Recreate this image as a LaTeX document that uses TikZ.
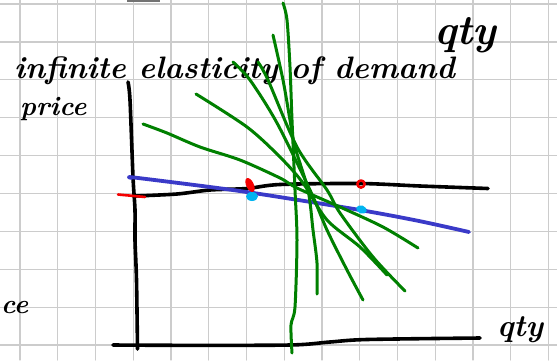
\documentclass[tikz,border=0pt]{standalone}
\usepackage{graphicx}
\usetikzlibrary{calc}
\definecolor{gridgray}{RGB}{204,204,204}
\definecolor{penblue}{RGB}{58,58,200}
\definecolor{pengreen}{RGB}{0,128,0}
\definecolor{penred}{RGB}{245,0,0}
\definecolor{pencyan}{RGB}{0,180,240}
\tikzset{
  every picture/.style={line cap=round, line join=round},
  blackpen/.style={draw=black, line width=3.6pt},
  greenpen/.style={draw=pengreen, line width=3pt},
  hand/.style={font=\fontsize{31}{36}\selectfont\bfseries\itshape, inner sep=0pt},
  smallhand/.style={font=\fontsize{27}{32}\selectfont\bfseries\itshape, inner sep=0pt},
  bighand/.style={font=\fontsize{42}{48}\selectfont\bfseries\itshape, inner sep=0pt},
}

\begin{document}
\begin{tikzpicture}[x=1pt,y=-1pt]
\useasboundingbox (0,0) rectangle (557,360);
\fill[white] (0,0) rectangle (557,360);
% squared paper
\foreach \i in {0,...,14}{
  \draw[gridgray,line width=1.3pt] ({20+37.75*\i},0) -- ({20+37.75*\i},360);
}
\foreach \j in {0,...,9}{
  \draw[gridgray,line width=1.3pt] (0,{4+37.9*\j}) -- (557,{4+37.9*\j});
}
\fill[black!55] (127,0) rectangle (160,2);
% handwritten labels
\node[hand,anchor=base west] (title) at (14,78) {infinite elasticity of demand};
\node[bighand,anchor=base west] (qtytop) at (434,44) {qty};
\node[smallhand,anchor=base west] (pricelbl) at (20,115) {price};
\node[smallhand,anchor=base west] (cutlbl) at (1,313) {ce};
\node[hand,anchor=base west] (qtyaxis) at (497,336) {qty};
% axes
\draw[blackpen] plot[smooth] coordinates {(128,82) (130,100) (133,177) (135,210) (135,240) (136.5,280) (137.5,349)};
\draw[blackpen] plot[smooth] coordinates {(113,345) (180,345.3) (290,345) (330,342) (367,339.5) (480,338)};
% flat line at the price level
\draw[blackpen] plot[smooth] coordinates {(135,196) (177,194) (210,190) (247,188.5) (280,184.5) (360,183.5) (420,186) (488,188.5)};
\draw[penred,line width=2.6pt] (118,194.5) -- (145,197);
% slightly sloping line
\draw[penblue,line width=3.8pt] plot[smooth] coordinates {(132,178) (134,177.5) (210,187) (260,194) (360,210) (419,221) (469,232)};
% fan of demand curves
\draw[greenpen] plot[smooth] coordinates {(283,3) (287,20) (290,67) (292,120) (295,190) (297,240) (295,307) (291,325) (292,353)};
\draw[greenpen] plot[smooth] coordinates {(273,35) (283,80) (290,120) (295,147) (308,190) (313,230) (317,263) (317,294)};
\draw[greenpen] plot[smooth] coordinates {(233,62) (250,80) (277,123) (310,190) (327,230) (347,270) (363,300)};
\draw[greenpen] plot[smooth] coordinates {(258,62) (268,80) (297,147) (327,190) (340,213) (373,257) (405,291)};
\draw[greenpen] plot[smooth] coordinates {(196,94) (247,127) (280,157) (303,183) (327,220) (360,247) (387,275)};
\draw[greenpen] plot[smooth] coordinates {(143,124) (167,133) (200,147) (240,160) (280,178) (297,188) (340,207) (383,227) (418,248)};
% marks
\fill[penred,rotate around={-65:(250,185)}] (250,185) ellipse (7.5 and 3.8);
\draw[penred,line width=2.5pt] (361,184) circle (3.6);
\fill[pencyan] (252,196.5) ellipse (6 and 4.5);
\fill[pencyan,rotate around={-20:(361.5,209.5)}] (361.5,209.5) ellipse (5.5 and 4);
\end{tikzpicture}
\end{document}
